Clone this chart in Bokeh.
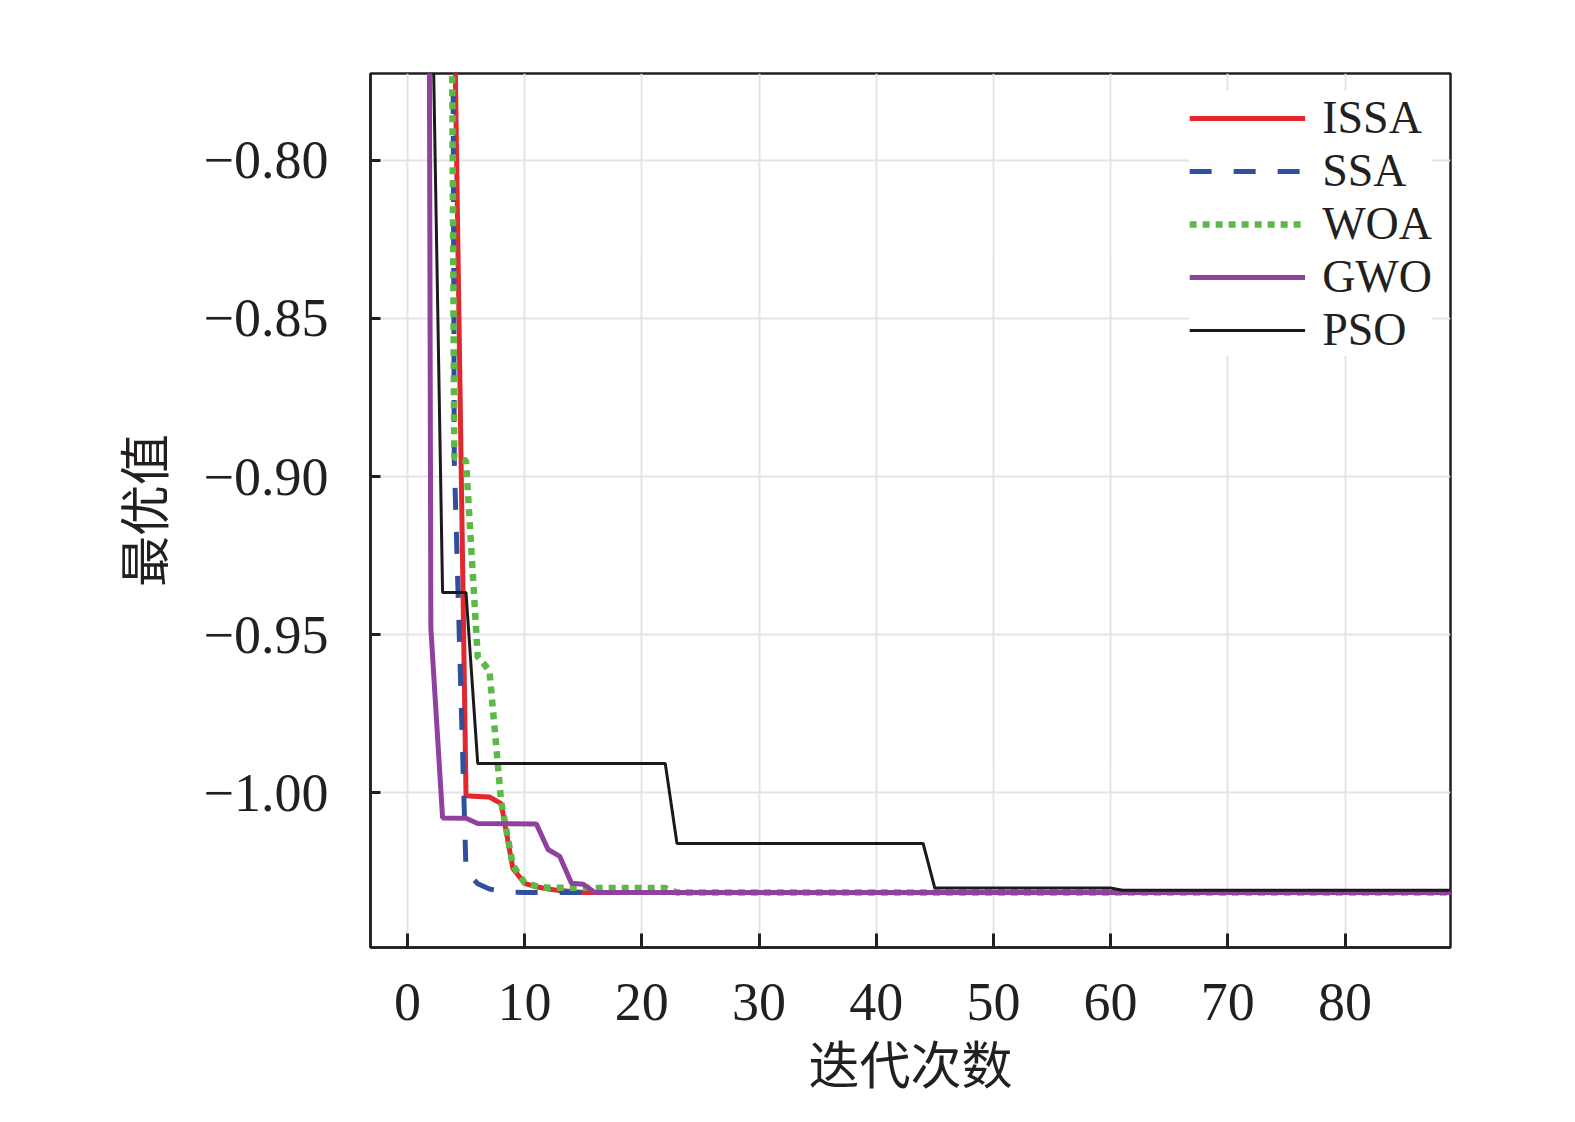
from bokeh.plotting import figure
from bokeh.models import Range1d, FixedTicker, CustomJSTickFormatter, Legend, LegendItem
from bokeh.embed import file_html
from bokeh.resources import INLINE

# ---- data ----
series_names = ["ISSA", "SSA", "WOA", "GWO", "PSO"]

issa_x = [1, 2, 3, 4, 5, 6, 7, 8, 9, 10, 11, 12, 13, 14, 15, 90]
issa_y = [-0.35, -0.55, -0.68, -0.75, -1.0010, -1.0012, -1.0014, -1.0035, -1.0240,
          -1.0287, -1.0298, -1.0305, -1.0310, -1.0313, -1.0316, -1.0316]

ssa_x = [1, 2, 3, 4, 5, 6, 7, 8, 9, 10, 90]
ssa_y = [0.3, 0.3, 0.3, -0.895, -1.0250, -1.0288, -1.0305, -1.0312, -1.0315, -1.0316, -1.0316]

woa_x = [1, 2, 3, 4, 5, 6, 7, 8, 9, 10, 11, 12, 22, 23, 90]
woa_y = [0.3, 0.1, -0.2, -0.894, -0.895, -0.957, -0.9614, -1.0030, -1.0230, -1.0285,
         -1.0296, -1.0301, -1.0302, -1.0316, -1.0316]

gwo_x = [1, 2, 3, 5, 6, 11, 12, 13, 14, 15, 16, 90]
gwo_y = [0.5, -0.948, -1.0080, -1.0081, -1.0098, -1.0099, -1.0180, -1.0202, -1.0287,
         -1.0290, -1.0316, -1.0316]

pso_x = [1, 2, 3, 5, 6, 22, 23, 44, 45, 60, 61, 90]
pso_y = [0.2, -0.72, -0.9367, -0.9367, -0.9908, -0.9908, -1.0161, -1.0161, -1.0302,
         -1.0302, -1.0309, -1.0309]

x_ticks = [0, 10, 20, 30, 40, 50, 60, 70, 80]
y_ticks = [-1.00, -0.95, -0.90, -0.85, -0.80]
y_tick_labels = ["\u22121.00", "\u22120.95", "\u22120.90", "\u22120.85", "\u22120.80"]

x_title = "迭代次数"
y_title = "最优值"

# ---- figure ----
W, H = 1559, 1106
p = figure(width=W, height=H, output_backend="svg", toolbar_location=None,
           x_range=Range1d(-3.15, 89.0), y_range=Range1d(-1.049, -0.7725),
           min_border_left=370, min_border_right=109, min_border_top=73, min_border_bottom=159)

p.background_fill_color = "white"
p.border_fill_color = "white"
p.outline_line_color = "#231f20"
p.outline_line_width = 2.5
p.outline_line_alpha = 1.0

serif = "Liberation Serif"
cjk = "Liberation Serif, Noto Sans CJK SC"

for ax in (p.xaxis[0], p.yaxis[0]):
    ax.axis_line_color = "#231f20"
    ax.axis_line_width = 2.5
    ax.major_tick_line_color = "#231f20"
    ax.major_tick_line_width = 3
    ax.major_tick_out = 0
    ax.minor_tick_line_color = None
    ax.major_label_text_font = serif
    ax.major_label_text_font_size = "54px"
    ax.major_label_text_color = "#231f20"
    ax.axis_label_text_font = cjk
    ax.axis_label_text_font_size = "51px"
    ax.axis_label_text_font_style = "normal"
    ax.axis_label_text_color = "#231f20"

p.xaxis[0].ticker = FixedTicker(ticks=x_ticks)
p.xaxis[0].major_tick_in = 14
p.xaxis[0].major_label_standoff = 36
p.xaxis[0].axis_label = x_title
p.xaxis[0].axis_label_standoff = 16

p.yaxis[0].ticker = FixedTicker(ticks=y_ticks)
p.yaxis[0].major_tick_in = 10
p.yaxis[0].major_label_standoff = 42
p.yaxis[0].formatter = CustomJSTickFormatter(
    args=dict(vals=y_ticks, labs=y_tick_labels),
    code="""
    let best = 0, d = 1e9;
    for (let i = 0; i < vals.length; i++) {
        const e = Math.abs(vals[i] - tick);
        if (e < d) { d = e; best = i; }
    }
    return labs[best];
    """)
p.yaxis[0].axis_label = y_title
p.yaxis[0].axis_label_standoff = 26

p.grid.grid_line_color = "#e4e4e4"
p.grid.grid_line_width = 2
p.xgrid.ticker = FixedTicker(ticks=x_ticks)
p.ygrid.ticker = FixedTicker(ticks=y_ticks)

r_issa = p.line(issa_x, issa_y, line_color="#e0282e", line_width=5)
r_ssa = p.line(ssa_x, ssa_y, line_color="#2f4f9f", line_width=5, line_dash="22 22")
r_woa = p.line(woa_x, woa_y, line_color="#5cb947", line_width=6.5, line_dash="7 6")
r_gwo = p.line(gwo_x, gwo_y, line_color="#90419e", line_width=5)
r_pso = p.line(pso_x, pso_y, line_color="#1a1a1a", line_width=3)

legend = Legend(items=[LegendItem(label=n, renderers=[r]) for n, r in
                       zip(series_names, [r_issa, r_ssa, r_woa, r_gwo, r_pso])],
                location="top_right")
legend.label_text_font = serif
legend.label_text_font_size = "46px"
legend.label_text_color = "#231f20"
legend.glyph_width = 116
legend.glyph_height = 20
legend.label_height = 20
legend.label_standoff = 17
legend.spacing = 0
legend.padding = 10
legend.margin = 18
legend.border_line_color = None
legend.background_fill_color = "white"
legend.background_fill_alpha = 1.0
p.add_layout(legend)

open("out.html", "w").write(file_html(p, INLINE))
